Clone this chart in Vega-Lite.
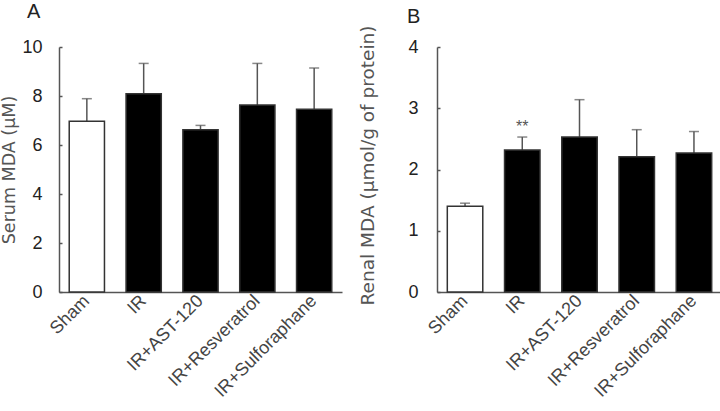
{
  "$schema": "https://vega.github.io/schema/vega-lite/v6.json",
  "background": "white",
  "padding": {"left": 0, "top": 2, "right": 0, "bottom": 0},
  "spacing": 16,
  "config": {
    "font": "Liberation Sans",
    "view": {"stroke": null},
    "axis": {
      "labelFontSize": 18,
      "titleFont": "DejaVu Sans",
      "titleFontSize": 18.5,
      "titleFontWeight": "normal",
      "titleColor": "#555",
      "labelColor": "#222",
      "domainColor": "#555",
      "tickColor": "#555",
      "domainWidth": 1.5,
      "tickWidth": 1.5,
      "grid": false
    },
    "title": {"fontSize": 20, "fontWeight": "normal", "color": "#222", "anchor": "start", "frame": "group"}
  },
  "datasets": {
    "serum": [
      {"group": "Sham", "mean": 6.97, "upper": 7.89},
      {"group": "IR", "mean": 8.09, "upper": 9.33},
      {"group": "IR+AST-120", "mean": 6.62, "upper": 6.8},
      {"group": "IR+Resveratrol", "mean": 7.63, "upper": 9.33},
      {"group": "IR+Sulforaphane", "mean": 7.46, "upper": 9.14}
    ],
    "renal": [
      {"group": "Sham", "mean": 1.40, "upper": 1.45, "sig": ""},
      {"group": "IR", "mean": 2.32, "upper": 2.53, "sig": "**"},
      {"group": "IR+AST-120", "mean": 2.53, "upper": 3.14, "sig": ""},
      {"group": "IR+Resveratrol", "mean": 2.21, "upper": 2.65, "sig": ""},
      {"group": "IR+Sulforaphane", "mean": 2.27, "upper": 2.62, "sig": ""}
    ]
  },
  "hconcat": [
    {
      "title": {"text": "A", "dx": -32, "offset": 16},
      "width": 283,
      "height": 245,
      "data": {"name": "serum"},
      "encoding": {
        "x": {
          "field": "group", "type": "nominal", "sort": null,
          "scale": {"paddingInner": 0.38, "paddingOuter": 0.18},
          "axis": {"title": null, "ticks": false, "labelAngle": -45, "labelAlign": "right", "labelBaseline": "middle", "labelPadding": 6, "labelColor": "#444"}
        }
      },
      "layer": [
        {
          "mark": {"type": "rule", "color": "#555", "strokeWidth": 1.5},
          "encoding": {"y": {"field": "mean", "type": "quantitative"}, "y2": {"field": "upper"}}
        },
        {
          "mark": {"type": "tick", "color": "#555", "thickness": 1.5, "size": 10},
          "encoding": {"y": {"field": "upper", "type": "quantitative"}}
        },
        {
          "mark": {"type": "bar", "stroke": "#333", "strokeWidth": 1.5},
          "encoding": {
            "y": {
              "field": "mean", "type": "quantitative",
              "scale": {"domain": [0, 10], "nice": false},
              "axis": {"title": "Serum MDA (μM)", "titleFontSize": 17.5, "values": [0, 2, 4, 6, 8, 10], "tickSize": -3, "labelPadding": 20, "titlePadding": 3}
            },
            "fill": {"condition": {"test": "datum.group === 'Sham'", "value": "white"}, "value": "black"}
          }
        }
      ]
    },
    {
      "title": {"text": "B", "dx": -30, "offset": -2},
      "width": 285,
      "height": 245,
      "data": {"name": "renal"},
      "encoding": {
        "x": {
          "field": "group", "type": "nominal", "sort": null,
          "scale": {"paddingInner": 0.38, "paddingOuter": 0.18},
          "axis": {"title": null, "ticks": false, "labelAngle": -45, "labelAlign": "right", "labelBaseline": "middle", "labelPadding": 6, "labelColor": "#444"}
        }
      },
      "layer": [
        {
          "mark": {"type": "rule", "color": "#555", "strokeWidth": 1.5},
          "encoding": {"y": {"field": "mean", "type": "quantitative"}, "y2": {"field": "upper"}}
        },
        {
          "mark": {"type": "tick", "color": "#555", "thickness": 1.5, "size": 10},
          "encoding": {"y": {"field": "upper", "type": "quantitative"}}
        },
        {
          "mark": {"type": "bar", "stroke": "#333", "strokeWidth": 1.5},
          "encoding": {
            "y": {
              "field": "mean", "type": "quantitative",
              "scale": {"domain": [0, 4], "nice": false},
              "axis": {"title": "Renal MDA (μmol/g of protein)", "titleY": 118, "values": [0, 1, 2, 3, 4], "format": "d", "tickSize": -3, "labelPadding": 22, "titlePadding": 30}
            },
            "fill": {"condition": {"test": "datum.group === 'Sham'", "value": "white"}, "value": "black"}
          }
        },
        {
          "mark": {"type": "text", "baseline": "bottom", "dy": -2, "fontSize": 16, "color": "#555"},
          "encoding": {"y": {"field": "upper", "type": "quantitative"}, "text": {"field": "sig"}}
        }
      ]
    }
  ]
}
